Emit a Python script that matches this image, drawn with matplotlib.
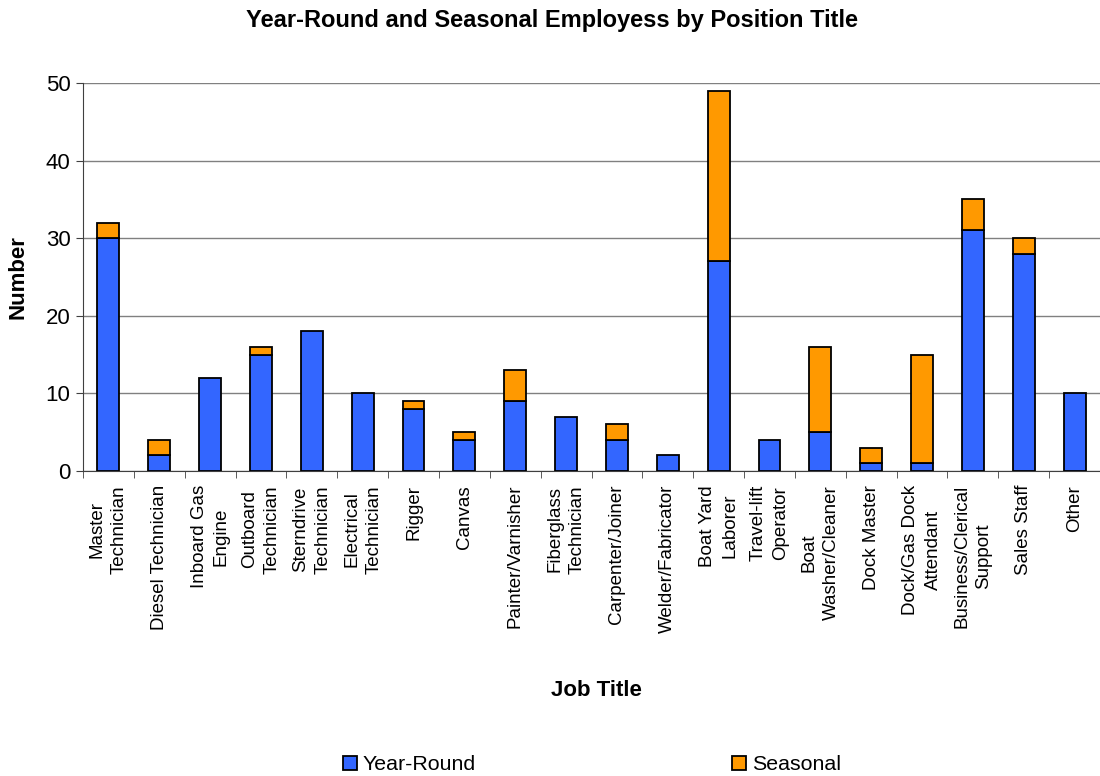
import numpy as np
import matplotlib.pyplot as plt
from matplotlib.patches import Patch

plt.rcParams['font.family'] = ['Liberation Sans', 'DejaVu Sans']
plt.rcParams['font.size'] = 12

jobs = ['Master\nTechnician', 'Diesel Technician', 'Inboard Gas\nEngine', 'Outboard\nTechnician',
        'Sterndrive\nTechnician', 'Electrical\nTechnician', 'Rigger', 'Canvas', 'Painter/Varnisher',
        'Fiberglass\nTechnician', 'Carpenter/Joiner', 'Welder/Fabricator', 'Boat Yard\nLaborer',
        'Travel-lift\nOperator', 'Boat\nWasher/Cleaner', 'Dock Master', 'Dock/Gas Dock\nAttendant',
        'Business/Clerical\nSupport', 'Sales Staff', 'Other']
year_round = [30, 2, 12, 15, 18, 10, 8, 4, 9, 7, 4, 2, 27, 4, 5, 1, 1, 31, 28, 10]
seasonal = [2, 2, 0, 1, 0, 0, 1, 1, 4, 0, 2, 0, 22, 0, 11, 2, 14, 4, 2, 0]

blue = '#3366FF'
orange = '#FF9900'

fig = plt.figure(figsize=(11, 7.76), dpi=100)
ax = fig.add_axes([83 / 1100, 1 - 471 / 776, 1017 / 1100, 388 / 776])

x = np.arange(len(jobs))
w = 0.43
ax.bar(x, year_round, w, color=blue, edgecolor='black', linewidth=1.3, zorder=3)
sb = [s if s > 0 else np.nan for s in seasonal]
ax.bar(x, sb, w, bottom=year_round, color=orange, edgecolor='black', linewidth=1.3, zorder=3)

ax.set_xlim(-0.5, len(jobs) - 0.5)
ax.set_ylim(0, 50)
ax.set_yticks(range(0, 51, 10))
ax.yaxis.grid(True, color='#808080', linewidth=1)
ax.set_axisbelow(True)

ax.set_xticks(x)
ax.set_xticklabels(jobs, rotation=90, ha='center', va='top', fontsize=13.5, linespacing=1.4)
ax.set_xticks(np.arange(-0.5, len(jobs), 1), minor=True)
ax.tick_params(axis='x', which='major', length=0, pad=10)
ax.tick_params(axis='x', which='minor', length=5, direction='out', color='#404040')
ax.tick_params(axis='y', length=5, direction='out', color='#404040', pad=4, labelsize=16)

for side in ['top', 'right']:
    ax.spines[side].set_visible(False)
ax.spines['left'].set_color('#404040')
ax.spines['bottom'].set_color('#404040')

ax.set_ylabel('Number', fontweight='bold', fontsize=16, va='center')
ax.yaxis.set_label_coords(-0.064, 0.5)
fig.text(596 / 1100, 1 - 691 / 776, 'Job Title', fontweight='bold', fontsize=16,
         ha='center', va='center')
fig.text(552 / 1100, 1 - 20 / 776, 'Year-Round and Seasonal Employess by Position Title',
         fontweight='bold', fontsize=17, ha='center', va='center')

handles = [Patch(facecolor=blue, edgecolor='black', linewidth=1.3, label='Year-Round'),
           Patch(facecolor=orange, edgecolor='black', linewidth=1.3, label='Seasonal')]
fig.legend(handles=handles, loc='center', bbox_to_anchor=(592 / 1100, 1 - 765 / 776), ncol=2,
           frameon=False, fontsize=15.4, handlelength=0.65, handleheight=0.65,
           handletextpad=0.25, columnspacing=12, borderpad=0)

fig.savefig('out.png', dpi=100)
